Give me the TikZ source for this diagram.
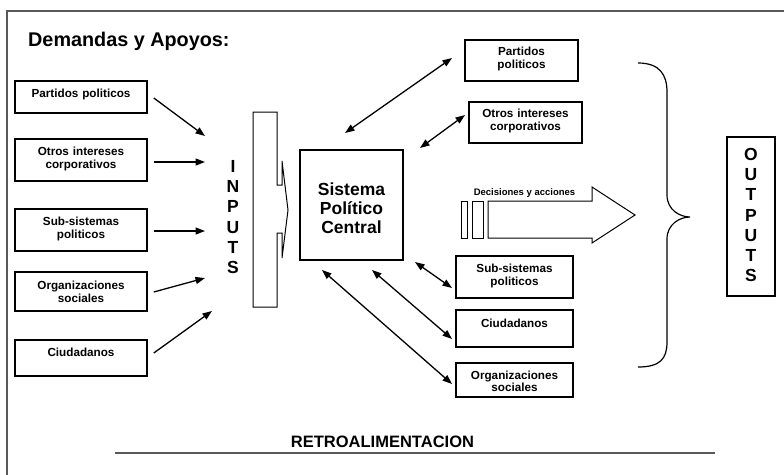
\documentclass[tikz,border=0pt]{standalone}
\usepackage{fontspec}
\setmainfont{Liberation Sans}
\usetikzlibrary{arrows.meta,calc}
\begin{document}
\begin{tikzpicture}[x=1pt,y=-1pt,
  box/.style={draw=black,line width=1.6pt,inner sep=0pt},
  lbl/.style={font=\fontsize{11.7}{12.5}\selectfont\bfseries,align=center,text width=128pt,inner sep=0pt,anchor=base},
  arr/.style={line width=1.3pt,-{Triangle[length=9.5pt,width=7pt]}},
  darr/.style={line width=1.3pt,{Triangle[length=9.5pt,width=7pt]}-{Triangle[length=9.5pt,width=7pt]}},
  big/.style={font=\fontsize{17.5}{20.3}\selectfont\bfseries,align=center,inner sep=0pt},
  thin/.style={draw=black,line width=1pt},
]
\useasboundingbox (0,0) rectangle (784,474);
% frame
\draw[black!65,line width=1.4pt] (7,480) -- (7,11) -- (790,11);
% title
\node[font=\fontsize{19.8}{21}\selectfont\bfseries,anchor=base west,inner sep=0pt] (title) at (28,46) {Demandas y Apoyos:};

% left boxes
\node[box,minimum width=132pt,minimum height=32pt] (L1) at (81,97) {};
\node[box,minimum width=132pt,minimum height=42pt] (L2) at (81,160) {};
\node[box,minimum width=132pt,minimum height=42pt] (L3) at (81,230) {};
\node[box,minimum width=132pt,minimum height=39pt] (L4) at (81,291.5) {};
\node[box,minimum width=132pt,minimum height=36pt] (L5) at (81,358) {};
\node[lbl] (L1t) at (81,97) {Partidos politicos};
\node[lbl] (L2t) at (81,155.5) {Otros intereses\\corporativos};
\node[lbl] (L3t) at (81,225.5) {Sub-sistemas\\politicos};
\node[lbl] (L4t) at (81,289.5) {Organizaciones\\sociales};
\node[lbl] (L5t) at (81,356) {Ciudadanos};

% arrows into INPUTS
\coordinate (i1) at (205,136);
\coordinate (i2) at (205,162);
\coordinate (i3) at (205,231);
\coordinate (i4) at (205,278);
\coordinate (i5) at (212,311);
\draw[arr] ($(L1.east)+(6,1)$) -- (i1);
\draw[arr] ($(L2.east)+(6,2)$) -- (i2);
\draw[arr] ($(L3.east)+(6,1)$) -- (i3);
\draw[arr] ($(L4.east)+(6,0.5)$) -- (i4);
\draw[arr] ($(L5.east)+(6,-5)$) -- (i5);

% INPUTS text
\node[big] (inputs) at (233,217) {I\\N\\P\\U\\T\\S};

% input bar with arrow
\draw[thin] (253,112) -- (277,112) -- (277,185) -- (282,185) -- (282,161) -- (288,210) -- (282,258) -- (282,233) -- (277,233) -- (277,307) -- (253,307) -- cycle;

% central box
\node[box,minimum width=103pt,minimum height=110pt] (C) at (351.5,205) {};
\node[big,font=\fontsize{17.5}{19}\selectfont\bfseries] (Ct) at (351.5,208) {Sistema\\Político\\Central};

% right boxes
\node[box,minimum width=113pt,minimum height=41pt] (R1) at (521.5,60.5) {};
\node[box,minimum width=113pt,minimum height=41pt] (R2) at (525.5,122.5) {};
\node[box,minimum width=117pt,minimum height=42pt] (R3) at (514.5,277) {};
\node[box,minimum width=117pt,minimum height=37pt] (R4) at (514.5,328.5) {};
\node[box,minimum width=117pt,minimum height=34pt] (R5) at (514.5,380) {};
\node[lbl,text width=112pt] (R1t) at (521.5,55.5) {Partidos\\politicos};
\node[lbl,text width=112pt] (R2t) at (525.5,117.5) {Otros intereses\\corporativos};
\node[lbl,text width=112pt] (R3t) at (514.5,272.5) {Sub-sistemas\\politicos};
\node[lbl,text width=112pt] (R4t) at (514.5,327) {Ciudadanos};
\node[lbl,text width=112pt,font=\fontsize{11.7}{11.5}\selectfont\bfseries] (R5t) at (514.5,379.5) {Organizaciones\\sociales};

% two-way arrows
\coordinate (c1) at (345,133); \coordinate (r1) at (452,58);
\coordinate (c2) at (420,148); \coordinate (r2) at (465,115);
\coordinate (c3) at (415,262); \coordinate (r3) at (452,288);
\coordinate (c4) at (372,270); \coordinate (r4) at (452,339);
\coordinate (c5) at (322,270); \coordinate (r5) at (452,384);
\draw[darr] (c1) -- (r1);
\draw[darr] (c2) -- (r2);
\draw[darr] (c3) -- (r3);
\draw[darr] (c4) -- (r4);
\draw[darr] (c5) -- (r5);

% decisiones arrow
\draw[thin] (461,201) rectangle (467,238);
\draw[thin] (472,201) rectangle (483,238);
\draw[thin] (488,201) -- (592,201) -- (592,187) -- (635,215) -- (592,243) -- (592,238) -- (488,238) -- cycle;
\node[font=\fontsize{9.5}{10}\selectfont\bfseries,anchor=base,inner sep=0pt] (dec) at (524.5,195.5) {Decisiones y acciones};

% brace
\draw[line width=1.2pt] (638,63) .. controls (660,63) and (667,75) .. (667,92) -- (667,195) .. controls (667,210) and (680,217) .. (690,217) .. controls (680,217) and (667,224) .. (667,239) -- (667,342) .. controls (667,359) and (660,367) .. (638,367);

% outputs
\node[box,minimum width=48pt,minimum height=159pt] (OUT) at (751,216.5) {};
\node[big] (OUTt) at (751,215) {O\\U\\T\\P\\U\\T\\S};

% retroalimentacion
\node[font=\fontsize{16.5}{17}\selectfont\bfseries,anchor=base,inner sep=0pt] (retro) at (382.5,447) {RETROALIMENTACION};
\coordinate (rl) at (115,453); \coordinate (rr) at (715,453);
\draw[black!65,line width=1.6pt] (rl) -- (rr);
\end{tikzpicture}
\end{document}
